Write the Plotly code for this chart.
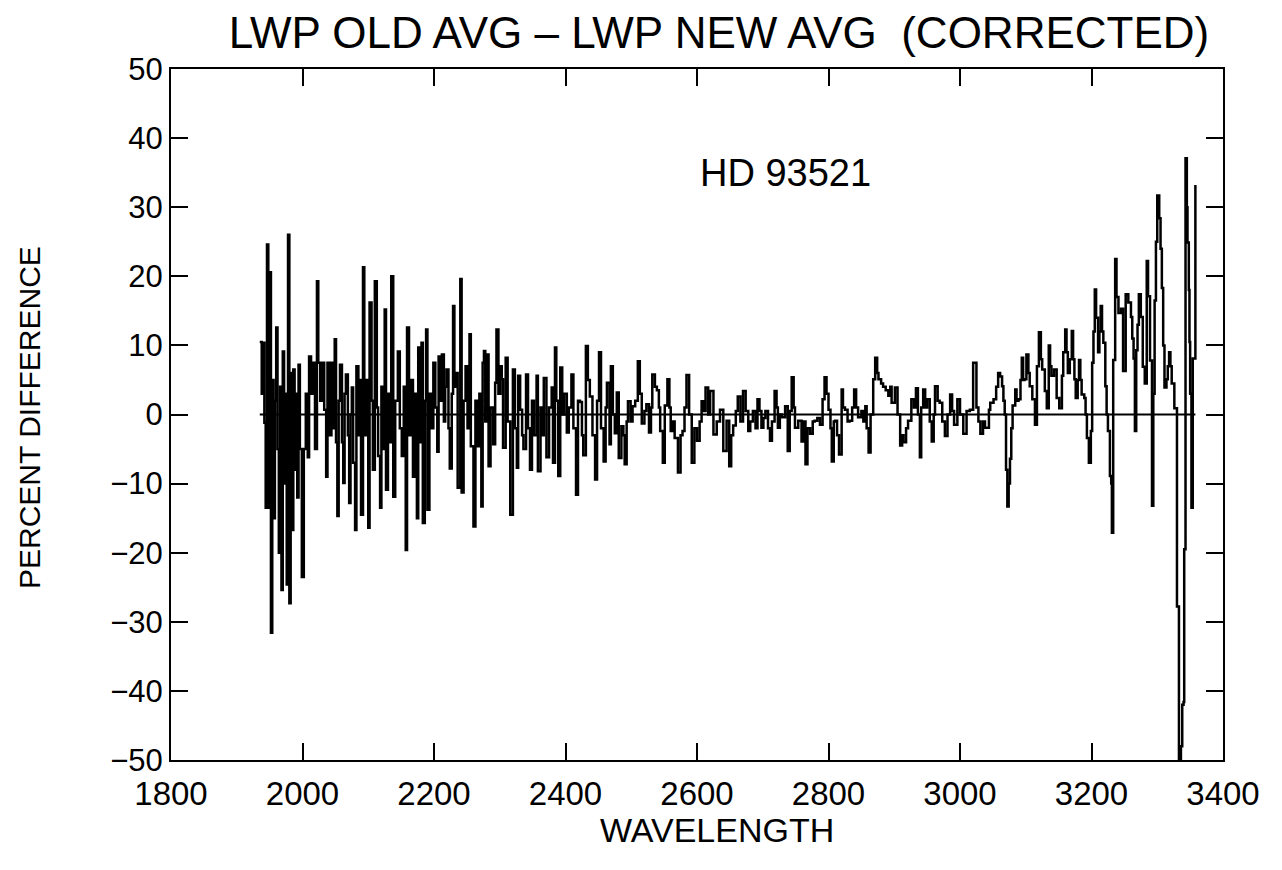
import plotly.graph_objects as go

# wavelength (Angstrom) and percent difference
wavelength = [
    1935, 1938, 1940, 1942, 1944, 1946, 1948, 1950, 1952, 1954, 1956, 1958, 1960, 1962, 1964, 1966, 1968, 1970,
    1972, 1974, 1976, 1978, 1980, 1982, 1984, 1986, 1988, 1990, 1992, 1994, 1996, 1999, 2002, 2005, 2008, 2010,
    2013, 2016, 2019, 2022, 2024, 2027, 2030, 2033, 2036, 2038, 2041, 2044, 2047, 2049, 2051, 2053, 2055, 2057,
    2060, 2062, 2064, 2066, 2069, 2071, 2073, 2075, 2077, 2080, 2082, 2085, 2087, 2089, 2092, 2094, 2097, 2100,
    2102, 2105, 2107, 2110, 2113, 2115, 2118, 2120, 2122, 2125, 2127, 2130, 2132, 2135, 2138, 2141, 2145, 2148,
    2151, 2154, 2157, 2159, 2162, 2165, 2168, 2171, 2174, 2176, 2178, 2181, 2183, 2186, 2188, 2190, 2193, 2196,
    2199, 2202, 2205, 2207, 2210, 2212, 2215, 2217, 2219, 2222, 2224, 2227, 2229, 2231, 2233, 2236, 2240, 2242,
    2245, 2248, 2251, 2254, 2256, 2260, 2263, 2266, 2269, 2272, 2274, 2276, 2278, 2281, 2283, 2286, 2290, 2293,
    2295, 2298, 2301, 2303, 2305, 2309, 2312, 2316, 2320, 2323, 2326, 2328, 2331, 2334, 2336, 2340, 2343, 2346,
    2349, 2352, 2356, 2358, 2362, 2364, 2367, 2371, 2375, 2379, 2381, 2384, 2386, 2389, 2392, 2395, 2398, 2402,
    2405, 2409, 2412, 2416, 2419, 2422, 2425, 2427, 2431, 2434, 2437, 2441, 2445, 2448, 2451, 2454, 2458, 2461,
    2463, 2467, 2469, 2472, 2475, 2478, 2481, 2485, 2488, 2490, 2493, 2495, 2499, 2502, 2506, 2510, 2513, 2516,
    2520, 2523, 2527, 2530, 2532, 2536, 2539, 2542, 2544, 2548, 2551, 2555, 2558, 2560, 2563, 2566, 2571, 2575,
    2578, 2581, 2584, 2588, 2592, 2596, 2600, 2604, 2607, 2610, 2613, 2617, 2620, 2625, 2630, 2635, 2640, 2645,
    2649, 2652, 2655, 2659, 2662, 2666, 2670, 2674, 2678, 2681, 2685, 2689, 2692, 2695, 2698, 2701, 2704, 2708,
    2711, 2714, 2718, 2721, 2723, 2726, 2729, 2734, 2738, 2741, 2744, 2747, 2749, 2754, 2759, 2762, 2765, 2768,
    2772, 2776, 2779, 2783, 2787, 2791, 2794, 2797, 2800, 2803, 2805, 2808, 2810, 2813, 2816, 2820, 2822, 2825,
    2829, 2832, 2836, 2839, 2842, 2845, 2850, 2853, 2856, 2858, 2861, 2864, 2868, 2871, 2874, 2876, 2880, 2883,
    2887, 2891, 2894, 2896, 2901, 2905, 2909, 2912, 2914, 2918, 2921, 2926, 2930, 2933, 2936, 2939, 2941, 2944,
    2947, 2950, 2954, 2957, 2960, 2962, 2966, 2969, 2973, 2977, 2981, 2985, 2988, 2991, 2996, 3000, 3005, 3010,
    3015, 3020, 3025, 3028, 3031, 3035, 3038, 3041, 3044, 3046, 3051, 3055, 3058, 3061, 3064, 3066, 3068, 3070,
    3072, 3074, 3076, 3078, 3080, 3084, 3086, 3089, 3092, 3094, 3096, 3098, 3101, 3104, 3106, 3110, 3114, 3117,
    3120, 3123, 3125, 3129, 3132, 3135, 3137, 3139, 3143, 3147, 3151, 3155, 3157, 3160, 3162, 3164, 3167, 3170,
    3172, 3174, 3176, 3179, 3181, 3183, 3185, 3189, 3191, 3193, 3196, 3199, 3201, 3203, 3205, 3207, 3210, 3212,
    3214, 3216, 3218, 3221, 3223, 3225, 3228, 3230, 3231, 3233, 3236, 3238, 3241, 3245, 3248, 3252, 3256, 3260,
    3262, 3264, 3266, 3268, 3270, 3272, 3275, 3278, 3281, 3284, 3286, 3289, 3292, 3294, 3296, 3298, 3300, 3303,
    3305, 3307, 3309, 3311, 3314, 3316, 3318, 3320, 3322, 3326, 3330, 3333, 3336, 3338, 3340, 3341, 3343, 3345,
    3346, 3348, 3349, 3350, 3352, 3354, 3358,
]

percent_diff = [
    10.5, 3, 10.4, -1.2, -13.5, 24.6, -13.5, 20.6, -31.6, 5, -15, 2, 12.6, -5, -20, 4, -25.4, 9.1,
    -10, 3, -24.6, 26, -27.3, 6, -16.7, 6.5, -8, 3, -12, 7.2, -5, -23.5, -5, 3, -6.2, 8.4,
    3, 7.5, -5, 19.3, 7.5, 2, 7.5, 0.7, -9, 7.5, -3, 7.5, -2, 10.9, -4, -14.7, 2, 7.2,
    -4, -9.9, 3, 5.8, -3, -12.8, 0, 3.9, -7, -16.7, 7, -3, 5, -14.5, 21.3, -3, 5, -16.4,
    16.2, 2, -8, 19.3, 1, -6, -13.5, 4, -5, 15.2, -10.9, 3, -4, 20, -11.9, 2, 9.1, -2,
    -6, 4, -19.6, 12.6, -3, 5, -9, 3, -15, 9.7, -4, 10.4, -15.7, 2, 12.3, -13.8, 3, -2,
    7.5, 1, -5.4, 8.4, 2, 8.7, -1, 4, 6.5, -2, -7.8, 3, 15.7, 4, 6, -10.6, 19.6, -11.3,
    2, 7, -2, 11.6, -4.6, -16.2, 2, -4.6, 3, -13.3, 7.5, 9.2, -1, 8.7, -7.5, 1, -4.3, 4.6,
    12.3, 3, 7, 5.1, -4.8, 8.2, -1, -14.5, 6.5, -2, -7.7, 5.6, 0.7, -3, -5, 5.8, -2, -8,
    2, -3, 5.6, -8.2, 1, -3, 5.3, -6.2, 1, 3.9, -7, 9.7, 2, -8.9, 6.8, 0, 3, -2.6,
    1, 5.8, -2, -11.6, 2, 1.8, -3, -5.9, 9.9, 5, 2.6, -3, -9.4, 2, 9, -2, -6.8, 1,
    4.6, -4.3, 7, 0, -2.7, 3.2, -6.3, -1.7, -3, -7.2, -1, 1.9, -1, 1.2, 2, 7.7, 3, -1.3,
    0.5, 1.5, -2.6, 1, 5.8, 4, 3.5, 1, -2.4, -7, 1.3, 5.1, 1, -2.4, -1, -3.4, -8.4, -3,
    -2.4, 1, 5.7, 0, -7, -2, -3.8, -1, 1.9, 0.5, 3.9, 0, 3.4, -2.9, -1, 0.7, -5.3, -0.9,
    -7.5, -3, -1.6, 0.5, 2.6, -1, 3.4, 0.5, -2.4, -1, 0.5, -2, 2.2, 0.5, -1.9, -0.5, 0.5, -2,
    -3.8, -1, 3.4, 1, -1.9, 0, -0.4, 1.2, -5.3, 0.5, 5.4, 1, -1.9, -0.9, -3.9, -1, -7.2, -2,
    -2.8, -1, -0.9, -0.5, -1.5, 2.2, 5.4, 3, 0.7, -2, -6.8, -1, -0.9, -3, -5.8, 3.6, 1, 0.7,
    -1, -0.9, 1, 3.6, 1, -0.4, 0.5, -1, 1.2, -2, -5.5, 0, 5.1, 8.2, 6, 5.1, 4.5, 4,
    3.5, 2.7, 4, 1.7, 3.9, 0, -4.5, -3, -4, -2, -0.9, 2.2, 1, 3.8, 0, -6.2, 1, 3.6,
    1, 2.2, -1, -3.9, 0, 4.1, 2, 1.7, -1, -3.1, 0, 2.9, 0.5, -1.5, 2.2, 0, -2.8, 0.5,
    0.7, 7.5, 1, -1, -2.8, -1, -1.9, -1.9, 0.7, 1.7, 2.2, 4, 6, 5.5, 4.1, 2, 0, -8,
    -13.3, -10, -6.4, -2, 1.3, 3.6, 2, 2.2, 5, 8.2, 5, 5.1, 8.7, 6, 4.1, 2.2, -1.5, 7,
    11.9, 8, 6.5, 3.4, 0.9, 10, 7, 5.6, 6.5, 2.4, 0.9, 5.6, 9, 12.3, 9, 6, 8, 12.1,
    8, 5.1, 2.4, 5, 7.9, 5, 2.9, 2.4, 0, -3.4, -7, -2.4, 7.5, 12, 18.1, 14, 9, 12,
    15.7, 12, 10.4, 4.1, 0, -2.4, -8.9, -10, -17.1, 7.9, 22.5, 17, 14.7, 15.3, 6.3, 17.4, 16.2, 14.1,
    11, 8.1, -2.4, 9.3, 13, 17.4, 14.1, 6.9, 4.5, 22.2, 17.1, 7.8, -13.2, 3, 16.5, 25, 31.7, 28.4,
    24, 18.3, 10, 3.9, 5.1, 7, 9, 7, 4.5, 0.9, -27.8, -53, -48, -42, -41.6, -19.5, 37.1, 30,
    24.9, 18, 10.5, 3, -13.5, 8.1, 33.2,
]

x_ticks = [1800, 2000, 2200, 2400, 2600, 2800, 3000, 3200, 3400]
y_ticks = [-50, -40, -30, -20, -10, 0, 10, 20, 30, 40, 50]

FONT = "Liberation Sans"

fig = go.Figure()

# zero reference line spanning the data
fig.add_trace(go.Scatter(
    x=[wavelength[0], wavelength[-1]], y=[0, 0], mode="lines",
    line=dict(color="black", width=2), hoverinfo="skip", showlegend=False,
))

fig.add_trace(go.Scatter(
    x=wavelength, y=percent_diff, mode="lines",
    line=dict(color="black", width=2.5, shape="hv"),
    showlegend=False,
))

axis_common = dict(
    showline=True, linecolor="black", linewidth=2, mirror="ticks",
    ticks="inside", ticklen=17, tickwidth=2, tickcolor="black",
    showgrid=False, zeroline=False,
)

fig.update_xaxes(range=[1800, 3400], tickvals=x_ticks,
                 ticktext=[str(v) for v in x_ticks], ticklabelstandoff=3,
                 tickfont=dict(family=FONT, size=33, color="black"),
                 **axis_common)
fig.update_yaxes(range=[-50, 50], tickvals=y_ticks,
                 ticktext=[str(v).replace("-", "\u2212") for v in y_ticks],
                 tickfont=dict(family=FONT, size=31, color="black"),
                 **axis_common)

fig.update_layout(
    width=1282, height=870,
    margin=dict(l=163, r=67, t=61, b=118),
    paper_bgcolor="white", plot_bgcolor="white",
    title=dict(
        text="LWP OLD AVG \u2013 LWP NEW AVG\u00a0\u00a0(CORRECTED)",
        x=0.5546, xanchor="center", y=0.9713, yanchor="middle",
        font=dict(family=FONT, size=44, color="black"),
    ),
    annotations=[
        dict(text="HD 93521", x=2735, y=35, xref="x", yref="y",
             showarrow=False, font=dict(family=FONT, size=38, color="black")),
        dict(text="WAVELENGTH", x=0.519, y=-0.101, xref="paper", yref="paper",
             showarrow=False, xanchor="center", yanchor="middle",
             font=dict(family=FONT, size=34, color="black")),
        dict(text="PERCENT DIFFERENCE", x=-0.134, y=0.495, xref="paper", yref="paper",
             showarrow=False, xanchor="center", yanchor="middle", textangle=-90,
             font=dict(family=FONT, size=30, color="black")),
    ],
)

fig.write_html("out.html")
